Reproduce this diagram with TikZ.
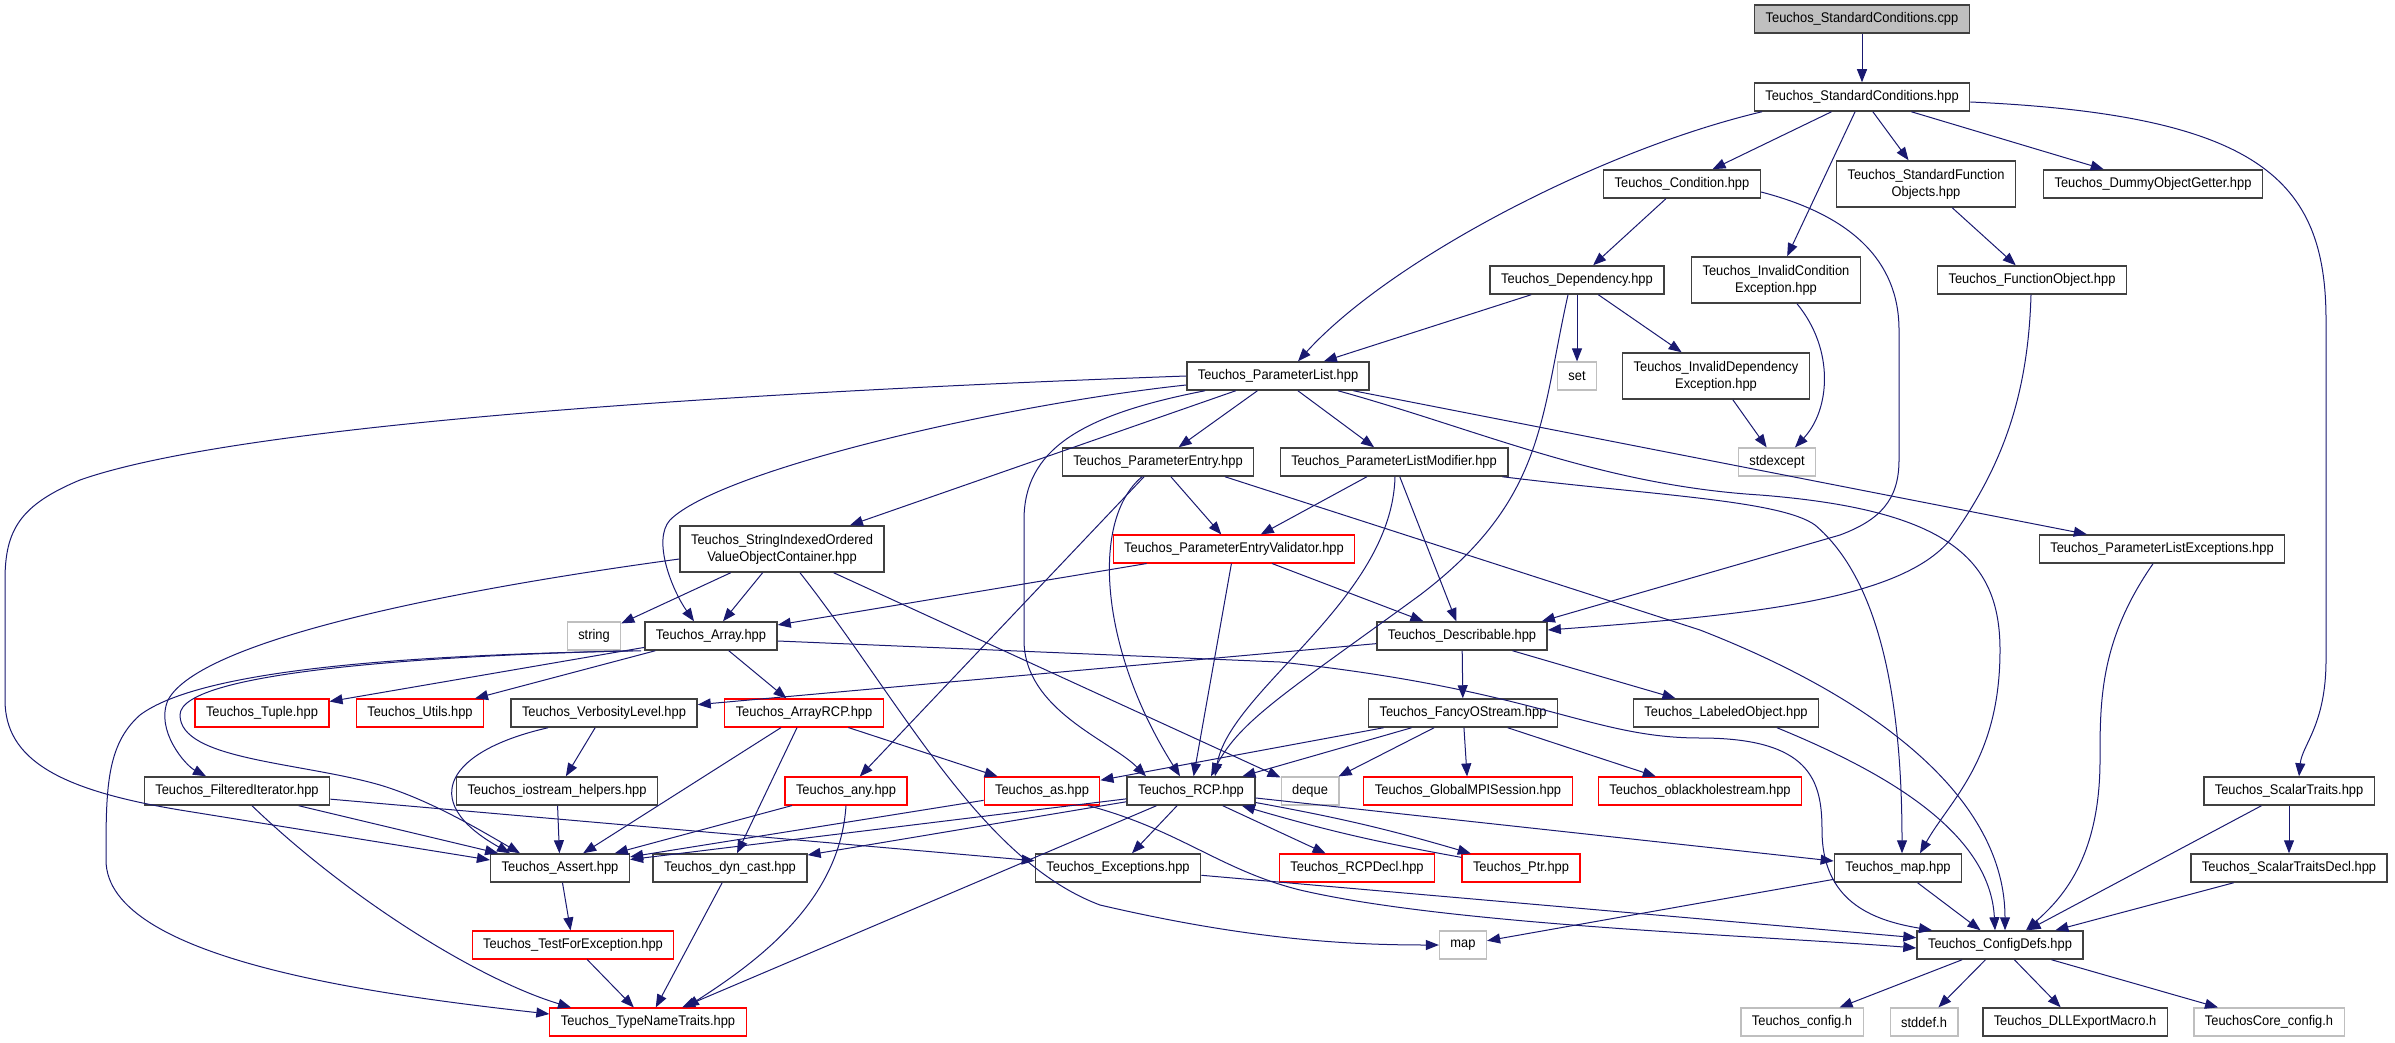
\documentclass[tikz,border=0pt]{standalone}
\usepackage{fontspec}
\usetikzlibrary{arrows.meta}
\newfontfamily\doxfont{Liberation Sans}[FakeStretch=0.92]
\definecolor{edgeblue}{HTML}{191970}
\definecolor{sysgray}{HTML}{BFBFBF}
\tikzset{
  hdr/.style={draw=black!75,line width=1.5pt,fill=white,font=\doxfont\fontsize{14}{17}\selectfont,
    inner xsep=11pt,inner ysep=0pt,minimum height=28pt,align=center},
  two/.style={hdr,minimum height=46pt},
  trunc/.style={hdr,draw=red,line width=1.1pt},
  sys/.style={hdr,draw=sysgray,line width=1.2pt},
  root/.style={hdr,fill=sysgray},
  incl/.style={draw=edgeblue,line width=1pt,-{Triangle[length=13pt,width=10pt]}}
}
\begin{document}
\begin{tikzpicture}[x=1pt,y=-1pt]
\useasboundingbox (0,0) rectangle (2395,1043);
\node[root] (cpp) at (1862,19) {Teuchos\_StandardConditions.cpp};
\node[hdr] (sch) at (1862,97) {Teuchos\_StandardConditions.hpp};
\node[hdr] (cond) at (1682,184) {Teuchos\_Condition.hpp};
\node[two] (sfo) at (1926,184) {Teuchos\_StandardFunction\\Objects.hpp};
\node[hdr] (dog) at (2153,184) {Teuchos\_DummyObjectGetter.hpp};
\node[hdr] (dep) at (1577,280) {Teuchos\_Dependency.hpp};
\node[two] (ice) at (1776,280) {Teuchos\_InvalidCondition\\Exception.hpp};
\node[hdr] (fo) at (2032,280) {Teuchos\_FunctionObject.hpp};
\node[hdr] (pl) at (1278,376) {Teuchos\_ParameterList.hpp};
\node[sys] (set) at (1577,376) {set};
\node[two] (ide) at (1716,376) {Teuchos\_InvalidDependency\\Exception.hpp};
\node[hdr] (pe) at (1158,462) {Teuchos\_ParameterEntry.hpp};
\node[hdr] (plm) at (1394,462) {Teuchos\_ParameterListModifier.hpp};
\node[sys] (stdexc) at (1777,462) {stdexcept};
\node[two] (sio) at (782,549) {Teuchos\_StringIndexedOrdered\\ValueObjectContainer.hpp};
\node[trunc] (pev) at (1234,549) {Teuchos\_ParameterEntryValidator.hpp};
\node[hdr] (ple) at (2162,549) {Teuchos\_ParameterListExceptions.hpp};
\node[sys] (str) at (594,636) {string};
\node[hdr] (arr) at (711,636) {Teuchos\_Array.hpp};
\node[hdr] (desc) at (1462,636) {Teuchos\_Describable.hpp};
\node[trunc] (tup) at (262,713) {Teuchos\_Tuple.hpp};
\node[trunc] (utl) at (420,713) {Teuchos\_Utils.hpp};
\node[hdr] (verb) at (604,713) {Teuchos\_VerbosityLevel.hpp};
\node[trunc] (arcp) at (804,713) {Teuchos\_ArrayRCP.hpp};
\node[hdr] (fos) at (1463,713) {Teuchos\_FancyOStream.hpp};
\node[hdr] (lab) at (1726,713) {Teuchos\_LabeledObject.hpp};
\node[hdr] (filt) at (237,791) {Teuchos\_FilteredIterator.hpp};
\node[hdr] (ioh) at (557,791) {Teuchos\_iostream\_helpers.hpp};
\node[trunc] (any) at (846,791) {Teuchos\_any.hpp};
\node[trunc] (as) at (1042,791) {Teuchos\_as.hpp};
\node[hdr] (rcp) at (1191,791) {Teuchos\_RCP.hpp};
\node[sys] (deq) at (1310,791) {deque};
\node[trunc] (mpi) at (1468,791) {Teuchos\_GlobalMPISession.hpp};
\node[trunc] (obh) at (1700,791) {Teuchos\_oblackholestream.hpp};
\node[hdr] (st) at (2289,791) {Teuchos\_ScalarTraits.hpp};
\node[hdr] (asrt) at (560,868) {Teuchos\_Assert.hpp};
\node[hdr] (dync) at (730,868) {Teuchos\_dyn\_cast.hpp};
\node[hdr] (exc) at (1118,868) {Teuchos\_Exceptions.hpp};
\node[trunc] (rdecl) at (1357,868) {Teuchos\_RCPDecl.hpp};
\node[trunc] (ptr) at (1521,868) {Teuchos\_Ptr.hpp};
\node[hdr] (mhpp) at (1898,868) {Teuchos\_map.hpp};
\node[hdr] (std) at (2289,868) {Teuchos\_ScalarTraitsDecl.hpp};
\node[trunc] (tfe) at (573,945) {Teuchos\_TestForException.hpp};
\node[sys] (map) at (1463,945) {map};
\node[hdr] (cdefs) at (2000,945) {Teuchos\_ConfigDefs.hpp};
\node[trunc] (tnt) at (648,1022) {Teuchos\_TypeNameTraits.hpp};
\node[sys] (cfg) at (1802,1022) {Teuchos\_config.h};
\node[sys] (stdd) at (1924,1022) {stddef.h};
\node[hdr] (dll) at (2075,1022) {Teuchos\_DLLExportMacro.h};
\node[sys] (ccfg) at (2269,1022) {TeuchosCore\_config.h};
\foreach \from/\to in {cpp/sch,sch/cond,sch/sfo,sch/dog,sch/ice,cond/dep,sfo/fo,dep/pl,dep/set,dep/ide,
  ide/stdexc,pl/pe,pl/plm,pl/sio,pl/ple,pe/pev,pe/any,plm/pev,plm/desc,pev/arr,pev/rcp,pev/desc,
  sio/str,sio/arr,sio/deq,arr/tup,arr/utl,arr/arcp,desc/verb,desc/fos,desc/lab,verb/ioh,ioh/asrt,
  arcp/asrt,arcp/dync,arcp/as,fos/as,fos/rcp,fos/deq,fos/mpi,fos/obh,any/asrt,filt/asrt,filt/exc,
  as/asrt,rcp/asrt,rcp/dync,rcp/tnt,rcp/exc,rcp/rdecl,rcp/mhpp,asrt/tfe,tfe/tnt,dync/tnt,exc/cdefs,
  mhpp/map,mhpp/cdefs,st/std,st/cdefs,std/cdefs,cdefs/cfg,cdefs/stdd,cdefs/dll,cdefs/ccfg}
\draw[incl] (\from) -- (\to);
\draw[incl] (rcp) to[bend left=3] (ptr);
\draw[incl] (ptr) to[bend left=3] (rcp);
% long curved includes
\draw[incl] ([xshift=-100pt]sch.south) .. controls (1600,150) and (1390,260) .. ([xshift=20pt]pl.north);
\draw[incl] ([yshift=-5pt]sch.east) .. controls (2260,115) and (2326,180) .. (2326,320) -- (2326,660)
  .. controls (2326,725) and (2302,745) .. ([xshift=10pt]st.north);
\draw[incl] ([yshift=-8pt]cond.east) .. controls (1850,215) and (1899,260) .. (1899,330) -- (1899,460)
  .. controls (1899,500) and (1880,520) .. (1840,535) -- ([xshift=-6pt]desc.north east);
\draw[incl] ([xshift=-1pt]fo.south) .. controls (2028,400) and (2000,470) .. (1950,540)
  .. controls (1900,600) and (1750,615) .. ([yshift=6pt]desc.east);
\draw[incl] ([xshift=21pt]ice.south) .. controls (1835,350) and (1830,410) .. ([xshift=18pt]stdexc.north);
\draw[incl] ([xshift=-9pt]dep.south) .. controls (1540,420) and (1545,500) .. (1420,595)
  .. controls (1290,690) and (1240,720) .. ([xshift=20pt]rcp.north);
\draw[incl] ([xshift=-73pt]pl.south) .. controls (1080,415) and (1024,450) .. (1024,520) -- (1024,640)
  .. controls (1024,710) and (1110,740) .. ([xshift=-45pt]rcp.north);
\draw[incl] ([xshift=-16pt]pe.south) .. controls (1090,520) and (1100,650) .. ([xshift=-11pt]rcp.north);
\draw[incl] ([xshift=1pt]plm.south) .. controls (1392,600) and (1230,690) .. ([xshift=24pt]rcp.north);
\draw[incl] ([xshift=60pt]pl.south) .. controls (1480,430) and (1600,485) .. (1760,495)
  .. controls (1950,510) and (2000,560) .. (2000,650) .. controls (2000,760) and (1950,800) .. ([xshift=22pt]mhpp.north);
\draw[incl] ([xshift=-6pt]plm.south east) .. controls (1650,495) and (1780,500) .. (1815,525)
  .. controls (1880,580) and (1902,700) .. ([xshift=4pt]mhpp.north);
\draw[incl] (pl.west) .. controls (800,390) and (250,420) .. (80,480) .. controls (20,505) and (5,530) .. (5,580)
  -- (5,700) .. controls (5,760) and (60,790) .. (180,810) -- ([yshift=8pt]asrt.west);
\draw[incl] ([yshift=-9pt]pl.west) .. controls (1000,405) and (720,470) .. (670,520)
  .. controls (652,540) and (672,590) .. ([xshift=-17pt]arr.north);
\draw[incl] ([yshift=-10pt]sio.west) .. controls (450,590) and (200,640) .. (168,700)
  .. controls (155,730) and (185,765) .. ([xshift=-31pt]filt.north);
\draw[incl] ([xshift=-70pt]arr.south) .. controls (400,655) and (200,670) .. (140,715)
  .. controls (106,745) and (106,790) .. (106,860) .. controls (106,960) and (380,995) .. ([yshift=8pt]tnt.west);
\draw[incl] ([xshift=-78pt]arr.south) .. controls (450,655) and (180,670) .. (180,715)
  .. controls (180,760) and (300,762) .. (380,785) .. controls (430,800) and (480,830) .. ([xshift=-40pt]asrt.north);
\draw[incl] ([yshift=-5pt]arr.east) -- (1280,662) .. controls (1540,690) and (1590,738) .. (1700,738)
  .. controls (1810,738) and (1822,780) .. (1822,830) .. controls (1822,900) and (1870,920) .. ([xshift=-68pt]cdefs.north);
\draw[incl] ([xshift=18pt]sio.south) .. controls (900,700) and (980,860) .. (1100,905)
  .. controls (1250,940) and (1350,945) .. (map.west);
\draw[incl] ([xshift=67pt]pe.south) -- (1700,630) .. controls (1880,700) and (2005,800) .. ([xshift=5pt]cdefs.north);
\draw[incl] ([xshift=46pt]as.south) .. controls (1180,830) and (1220,870) .. (1300,890)
  .. controls (1450,925) and (1750,935) .. ([yshift=-3pt]cdefs.west);
\draw[incl] ([xshift=51pt]lab.south) .. controls (1880,770) and (1990,830) .. ([xshift=-5pt]cdefs.north);
\draw[incl] ([xshift=-9pt]ple.south) .. controls (2100,640) and (2100,700) .. (2100,760)
  .. controls (2100,860) and (2060,900) .. ([xshift=26pt]cdefs.north);
\draw[incl] ([xshift=15pt]filt.south) .. controls (350,900) and (480,980) .. ([xshift=-77pt]tnt.north);
\draw[incl] (any.south) .. controls (840,900) and (760,960) .. ([xshift=38pt]tnt.north);
\draw[incl] ([xshift=-56pt]verb.south) .. controls (450,750) and (415,800) .. ([xshift=-50pt]asrt.north);
\end{tikzpicture}
\end{document}
